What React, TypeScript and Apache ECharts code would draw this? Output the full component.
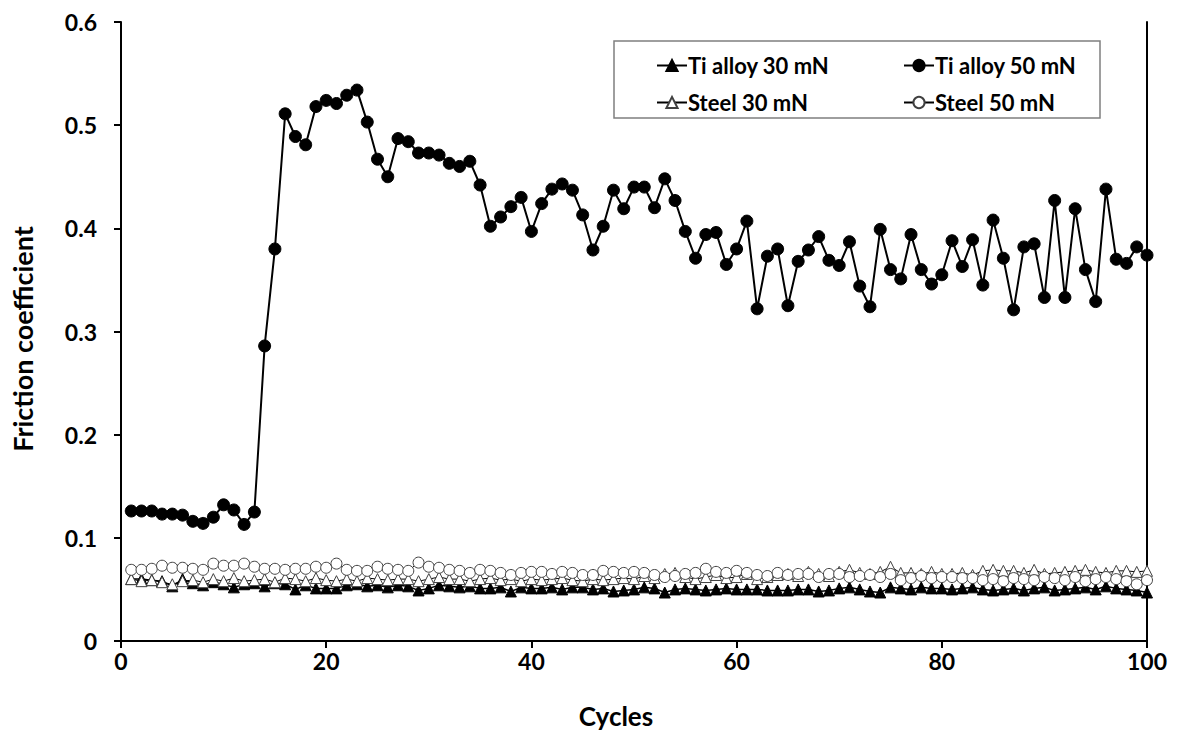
import React, { useEffect, useRef } from "react";
import * as echarts from "echarts";

const cycles: number[] = Array.from({ length: 100 }, (_, i) => i + 1);

const tiAlloy30: number[] = [
  0.060, 0.060, 0.059, 0.058, 0.053, 0.060, 0.056, 0.054, 0.057, 0.055,
  0.052, 0.055, 0.056, 0.053, 0.056, 0.055, 0.050, 0.054, 0.051, 0.051,
  0.051, 0.054, 0.055, 0.053, 0.054, 0.052, 0.054, 0.053, 0.049, 0.051,
  0.054, 0.053, 0.052, 0.053, 0.051, 0.051, 0.052, 0.048, 0.052, 0.051,
  0.051, 0.052, 0.050, 0.052, 0.052, 0.050, 0.051, 0.048, 0.049, 0.050,
  0.052, 0.051, 0.047, 0.050, 0.051, 0.050, 0.049, 0.050, 0.051, 0.050,
  0.050, 0.050, 0.049, 0.049, 0.049, 0.050, 0.050, 0.048, 0.049, 0.051,
  0.052, 0.050, 0.048, 0.047, 0.052, 0.051, 0.050, 0.052, 0.051, 0.051,
  0.050, 0.051, 0.052, 0.050, 0.049, 0.050, 0.051, 0.049, 0.051, 0.052,
  0.049, 0.050, 0.051, 0.052, 0.050, 0.053, 0.051, 0.050, 0.049, 0.047,
];

const tiAlloy50: number[] = [
  0.126, 0.126, 0.126, 0.123, 0.123, 0.122, 0.116, 0.114, 0.120, 0.132,
  0.127, 0.113, 0.125, 0.286, 0.380, 0.511, 0.489, 0.481, 0.518, 0.524,
  0.521, 0.529, 0.534, 0.503, 0.467, 0.450, 0.487, 0.484, 0.473, 0.473,
  0.471, 0.463, 0.460, 0.465, 0.442, 0.402, 0.411, 0.421, 0.430, 0.397,
  0.424, 0.438, 0.443, 0.437, 0.413, 0.379, 0.402, 0.437, 0.419, 0.440,
  0.440, 0.420, 0.448, 0.427, 0.397, 0.371, 0.394, 0.396, 0.365, 0.380,
  0.407, 0.322, 0.373, 0.380, 0.325, 0.368, 0.379, 0.392, 0.369, 0.364,
  0.387, 0.344, 0.324, 0.399, 0.360, 0.351, 0.394, 0.360, 0.346, 0.355,
  0.388, 0.363, 0.389, 0.345, 0.408, 0.371, 0.321, 0.382, 0.385, 0.333,
  0.427, 0.333, 0.419, 0.360, 0.329, 0.438, 0.370, 0.366, 0.382, 0.374,
];

const steel30: number[] = [
  0.060, 0.058, 0.059, 0.057, 0.055, 0.058, 0.059, 0.057, 0.060, 0.058,
  0.061, 0.058, 0.059, 0.060, 0.057, 0.061, 0.060, 0.058, 0.061, 0.059,
  0.058, 0.060, 0.058, 0.061, 0.060, 0.059, 0.060, 0.060, 0.058, 0.060,
  0.062, 0.060, 0.060, 0.058, 0.060, 0.061, 0.059, 0.060, 0.058, 0.060,
  0.059, 0.060, 0.061, 0.059, 0.058, 0.060, 0.059, 0.060, 0.061, 0.060,
  0.063, 0.061, 0.065, 0.066, 0.062, 0.060, 0.062, 0.064, 0.061, 0.062,
  0.065, 0.060, 0.062, 0.064, 0.065, 0.063, 0.067, 0.065, 0.063, 0.067,
  0.069, 0.066, 0.065, 0.067, 0.072, 0.066, 0.066, 0.065, 0.067, 0.065,
  0.065, 0.066, 0.064, 0.068, 0.069, 0.068, 0.068, 0.066, 0.069, 0.065,
  0.066, 0.067, 0.068, 0.069, 0.067, 0.066, 0.068, 0.068, 0.067, 0.068,
];

const steel50: number[] = [
  0.069, 0.069, 0.070, 0.073, 0.071, 0.071, 0.070, 0.069, 0.075, 0.073,
  0.073, 0.075, 0.072, 0.070, 0.070, 0.069, 0.070, 0.070, 0.072, 0.071,
  0.075, 0.069, 0.068, 0.068, 0.072, 0.070, 0.069, 0.068, 0.076, 0.072,
  0.071, 0.069, 0.068, 0.066, 0.069, 0.068, 0.066, 0.064, 0.066, 0.067,
  0.067, 0.065, 0.067, 0.066, 0.064, 0.064, 0.068, 0.067, 0.066, 0.067,
  0.066, 0.064, 0.062, 0.063, 0.065, 0.066, 0.070, 0.067, 0.066, 0.068,
  0.066, 0.064, 0.063, 0.066, 0.064, 0.065, 0.065, 0.062, 0.065, 0.065,
  0.062, 0.063, 0.064, 0.062, 0.065, 0.059, 0.061, 0.063, 0.061, 0.062,
  0.062, 0.061, 0.061, 0.059, 0.060, 0.058, 0.061, 0.060, 0.059, 0.062,
  0.061, 0.059, 0.062, 0.058, 0.060, 0.062, 0.060, 0.058, 0.055, 0.059,
];

const xTicks = { min: 0, max: 100, interval: 20 };
const yTicks = { min: 0, max: 0.6, interval: 0.1 };

const seriesNames = ["Ti alloy 30 mN", "Ti alloy 50 mN", "Steel 30 mN", "Steel 50 mN"];

const FONT = "Lato";

export default function App() {
  const ref = useRef<HTMLDivElement>(null);

  useEffect(() => {
    if (!ref.current) return;
    const chart = echarts.init(ref.current, undefined, { renderer: "svg" });
    const pair = (arr: number[]) => cycles.map((c, i) => [c, arr[i]]);

    const labelStyle = {
      color: "#000",
      fontFamily: FONT,
      fontWeight: "bold" as const,
      fontSize: 23,
    };

    chart.setOption({
      animation: false,
      backgroundColor: "#fff",
      grid: { left: 121, right: 34, top: 22, bottom: 94, containLabel: false },
      xAxis: {
        type: "value",
        min: xTicks.min,
        max: xTicks.max,
        interval: xTicks.interval,
        axisLine: { show: true, onZero: false, lineStyle: { color: "#000", width: 2 } },
        axisTick: { show: true, inside: false, length: 7, lineStyle: { color: "#000", width: 2 } },
        axisLabel: { ...labelStyle, margin: 8 },
        splitLine: { show: false },
      },
      yAxis: [
        {
          type: "value",
          min: yTicks.min,
          max: yTicks.max,
          interval: yTicks.interval,
          axisLine: { show: true, onZero: false, lineStyle: { color: "#000", width: 2 } },
          axisTick: { show: true, inside: false, length: 7, lineStyle: { color: "#000", width: 2 } },
          axisLabel: {
            ...labelStyle,
            margin: 24,
            formatter: (v: number) => (v === 0 ? "0" : v.toFixed(1)),
          },
          splitLine: { show: false },
        },
        {
          type: "value",
          position: "right",
          min: yTicks.min,
          max: yTicks.max,
          interval: yTicks.interval,
          axisLine: { show: true, onZero: false, lineStyle: { color: "#000", width: 2 } },
          axisTick: { show: false },
          axisLabel: { show: false },
          splitLine: { show: false },
        },
      ],
      legend: [
        {
          data: [seriesNames[0], seriesNames[2]],
          orient: "vertical",
          left: 651,
          top: 49,
          itemWidth: 30,
          itemHeight: 14,
          itemGap: 14,
          textStyle: { ...labelStyle, fontSize: 22, lineHeight: 23, padding: [0, 0, 0, -4] },
        },
        {
          data: [seriesNames[1], seriesNames[3]],
          orient: "vertical",
          left: 898,
          top: 49,
          itemWidth: 30,
          itemHeight: 14,
          itemGap: 14,
          textStyle: { ...labelStyle, fontSize: 22, lineHeight: 23, padding: [0, 0, 0, -4] },
        },
      ],
      graphic: [
        {
          type: "rect",
          z: 0,
          shape: { x: 614, y: 41, width: 486, height: 77 },
          style: { fill: "#fff", stroke: "#7f7f7f", lineWidth: 1.5 },
        },
        {
          type: "text",
          x: 616,
          y: 716,
          style: {
            text: "Cycles",
            fill: "#000",
            font: `bold 26px ${FONT}`,
            textAlign: "center",
            textVerticalAlign: "middle",
          },
        },
        {
          type: "text",
          x: 22,
          y: 339,
          rotation: Math.PI / 2,
          style: {
            text: "Friction coefficient",
            fill: "#000",
            font: `bold 27px ${FONT}`,
            textAlign: "center",
            textVerticalAlign: "middle",
          },
        },
      ],
      series: [
        {
          name: seriesNames[0],
          type: "line",
          data: pair(tiAlloy30),
          symbol: "triangle",
          symbolSize: 11,
          lineStyle: { color: "#000", width: 1.5 },
          itemStyle: { color: "#000", borderColor: "#000", borderWidth: 1 },
        },
        {
          name: seriesNames[1],
          type: "line",
          data: pair(tiAlloy50),
          symbol: "circle",
          symbolSize: 12,
          lineStyle: { color: "#000", width: 2 },
          itemStyle: { color: "#000", borderColor: "#000", borderWidth: 1 },
        },
        {
          name: seriesNames[2],
          type: "line",
          data: pair(steel30),
          symbol: "triangle",
          symbolSize: 11,
          lineStyle: { color: "#000", width: 1 },
          itemStyle: { color: "#fff", borderColor: "#404040", borderWidth: 1 },
        },
        {
          name: seriesNames[3],
          type: "line",
          data: pair(steel50),
          symbol: "circle",
          symbolSize: 11,
          lineStyle: { color: "#000", width: 1 },
          itemStyle: { color: "#fff", borderColor: "#404040", borderWidth: 1 },
        },
      ],
    });

    return () => chart.dispose();
  }, []);

  return (
    <div
      ref={ref}
      style={{ position: "fixed", left: 0, top: 0, width: 1181, height: 735 }}
    />
  );
}
